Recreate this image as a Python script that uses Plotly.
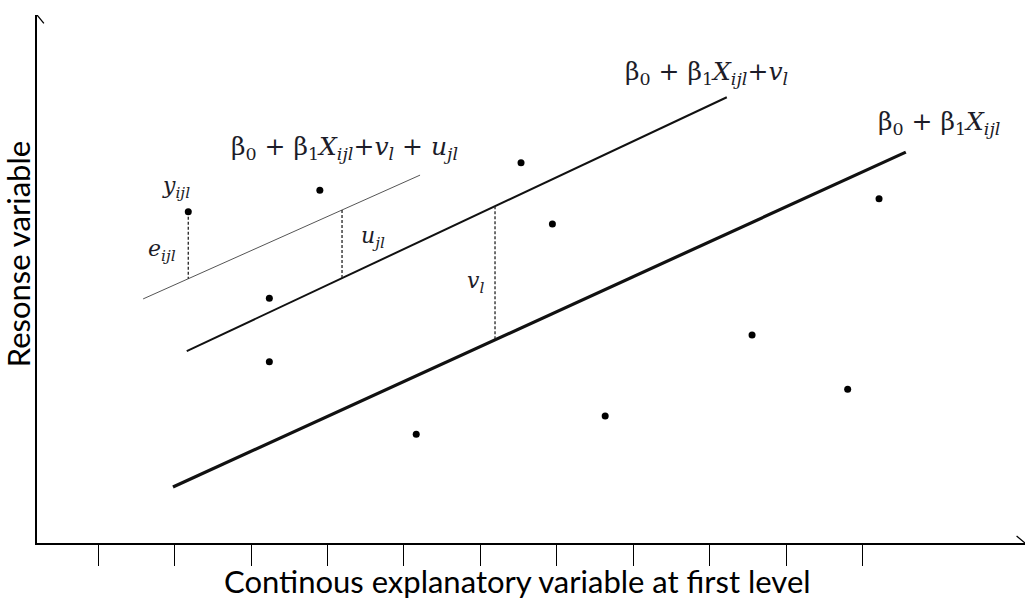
import plotly.graph_objects as go

# Observed points (continuous explanatory variable, response)
point_x = [2.18, 3.90, 3.24, 3.24, 5.16, 6.53, 6.94, 7.63, 9.55, 10.80, 11.21]
point_y = [4.33, 4.61, 3.20, 2.37, 1.42, 4.97, 4.17, 1.66, 2.72, 2.01, 4.50]

# Regression lines: intercept, slope and x extent
fixed_line = {"a": -0.173, "b": 0.457, "x": [1.98, 11.56]}        # b0 + b1 X
level2_line = {"a": 1.493, "b": 0.470, "x": [2.16, 9.22]}         # + v_l
level1_line = {"a": 2.480, "b": 0.447, "x": [1.59, 5.21]}         # + v_l + u_jl

# Positions of the residual markers along x
e_x = 2.18
u_x = 4.19
v_x = 6.19

# Tick positions along the explanatory axis
tick_vals = list(range(1, 12))


def line_y(line, x):
    return line["a"] + line["b"] * x


fig = go.Figure()

# regression lines
for line, width, color in [(fixed_line, 3.2, "#111"),
                           (level2_line, 2.0, "#111"),
                           (level1_line, 1.0, "#555")]:
    fig.add_trace(go.Scatter(
        x=line["x"], y=[line_y(line, v) for v in line["x"]],
        mode="lines", line=dict(color=color, width=width),
        hoverinfo="skip", showlegend=False))

# residual segments (dashed)
segments = [
    (e_x, point_y[0], line_y(level1_line, e_x)),
    (u_x, line_y(level1_line, u_x), line_y(level2_line, u_x)),
    (v_x, line_y(level2_line, v_x), line_y(fixed_line, v_x)),
]
for sx, y0, y1 in segments:
    fig.add_trace(go.Scatter(
        x=[sx, sx], y=[y0, y1], mode="lines",
        line=dict(color="#222", width=1.3, dash="3px,2px"),
        hoverinfo="skip", showlegend=False))

# data points
fig.add_trace(go.Scatter(
    x=point_x, y=point_y, mode="markers",
    marker=dict(color="black", size=7),
    hoverinfo="skip", showlegend=False))

# arrow heads on the axes
x_end, y_end = 13.118, 6.902
fig.add_trace(go.Scatter(
    x=[x_end - 0.11, x_end, x_end - 0.11], y=[0.09, 0, -0.09],
    mode="lines", line=dict(color="black", width=1.3),
    hoverinfo="skip", showlegend=False))
x0 = 0.2026
fig.add_trace(go.Scatter(
    x=[x0 - 0.09, x0, x0 + 0.09], y=[y_end - 0.11, y_end, y_end - 0.11],
    mode="lines", line=dict(color="black", width=1.3),
    hoverinfo="skip", showlegend=False))

eq_font = dict(family="DejaVu Serif", size=25, color="#1c1c28")
sym_font = dict(family="DejaVu Serif", size=22, color="#1c1c28")
labels = [
    (4.22, 5.17, "β<sub>0</sub> + β<sub>1</sub><i>X<sub>ijl</sub></i>+<i>v<sub>l</sub></i> + <i>u<sub>jl</sub></i>", eq_font),
    (8.96, 6.15, "β<sub>0</sub> + β<sub>1</sub><i>X<sub>ijl</sub></i>+<i>v<sub>l</sub></i>", eq_font),
    (11.99, 5.49, "β<sub>0</sub> + β<sub>1</sub><i>X<sub>ijl</sub></i>", eq_font),
    (2.02, 4.65, "<i>y<sub>ijl</sub></i>", sym_font),
    (1.84, 3.83, "<i>e<sub>ijl</sub></i>", sym_font),
    (4.59, 4.00, "<i>u<sub>jl</sub></i>", sym_font),
    (5.94, 3.41, "<i>v<sub>l</sub></i>", sym_font),
]
for lx, ly, txt, fnt in labels:
    fig.add_annotation(x=lx, y=ly, text=txt, showarrow=False, font=fnt,
                       xanchor="center", yanchor="middle")

axis_font = dict(family="Lato", size=31, color="black")
fig.add_annotation(xref="paper", yref="paper", x=0.486, y=-0.072,
                   xanchor="center", yanchor="middle",
                   text="Continous explanatory variable at first level",
                   showarrow=False, font=axis_font)
fig.add_annotation(xref="paper", yref="paper", x=-0.0192, y=0.547,
                   xanchor="center", yanchor="middle",
                   text="Resonse variable", textangle=-90,
                   showarrow=False, font=axis_font)

fig.update_xaxes(range=[0.2026, 13.118], showgrid=False, zeroline=False,
                 showline=True, linecolor="black", linewidth=1.5,
                 ticks="outside", tickvals=tick_vals, ticklen=21,
                 tickwidth=1.3, tickcolor="black", showticklabels=False)
fig.update_yaxes(range=[0, 6.902], showgrid=False, zeroline=False,
                 showline=True, linecolor="black", linewidth=1.5,
                 showticklabels=False, ticks="")

fig.update_layout(width=1032, height=605,
                  margin=dict(l=37, r=7, t=15, b=62),
                  plot_bgcolor="white", paper_bgcolor="white")

fig.write_html("out.html")
